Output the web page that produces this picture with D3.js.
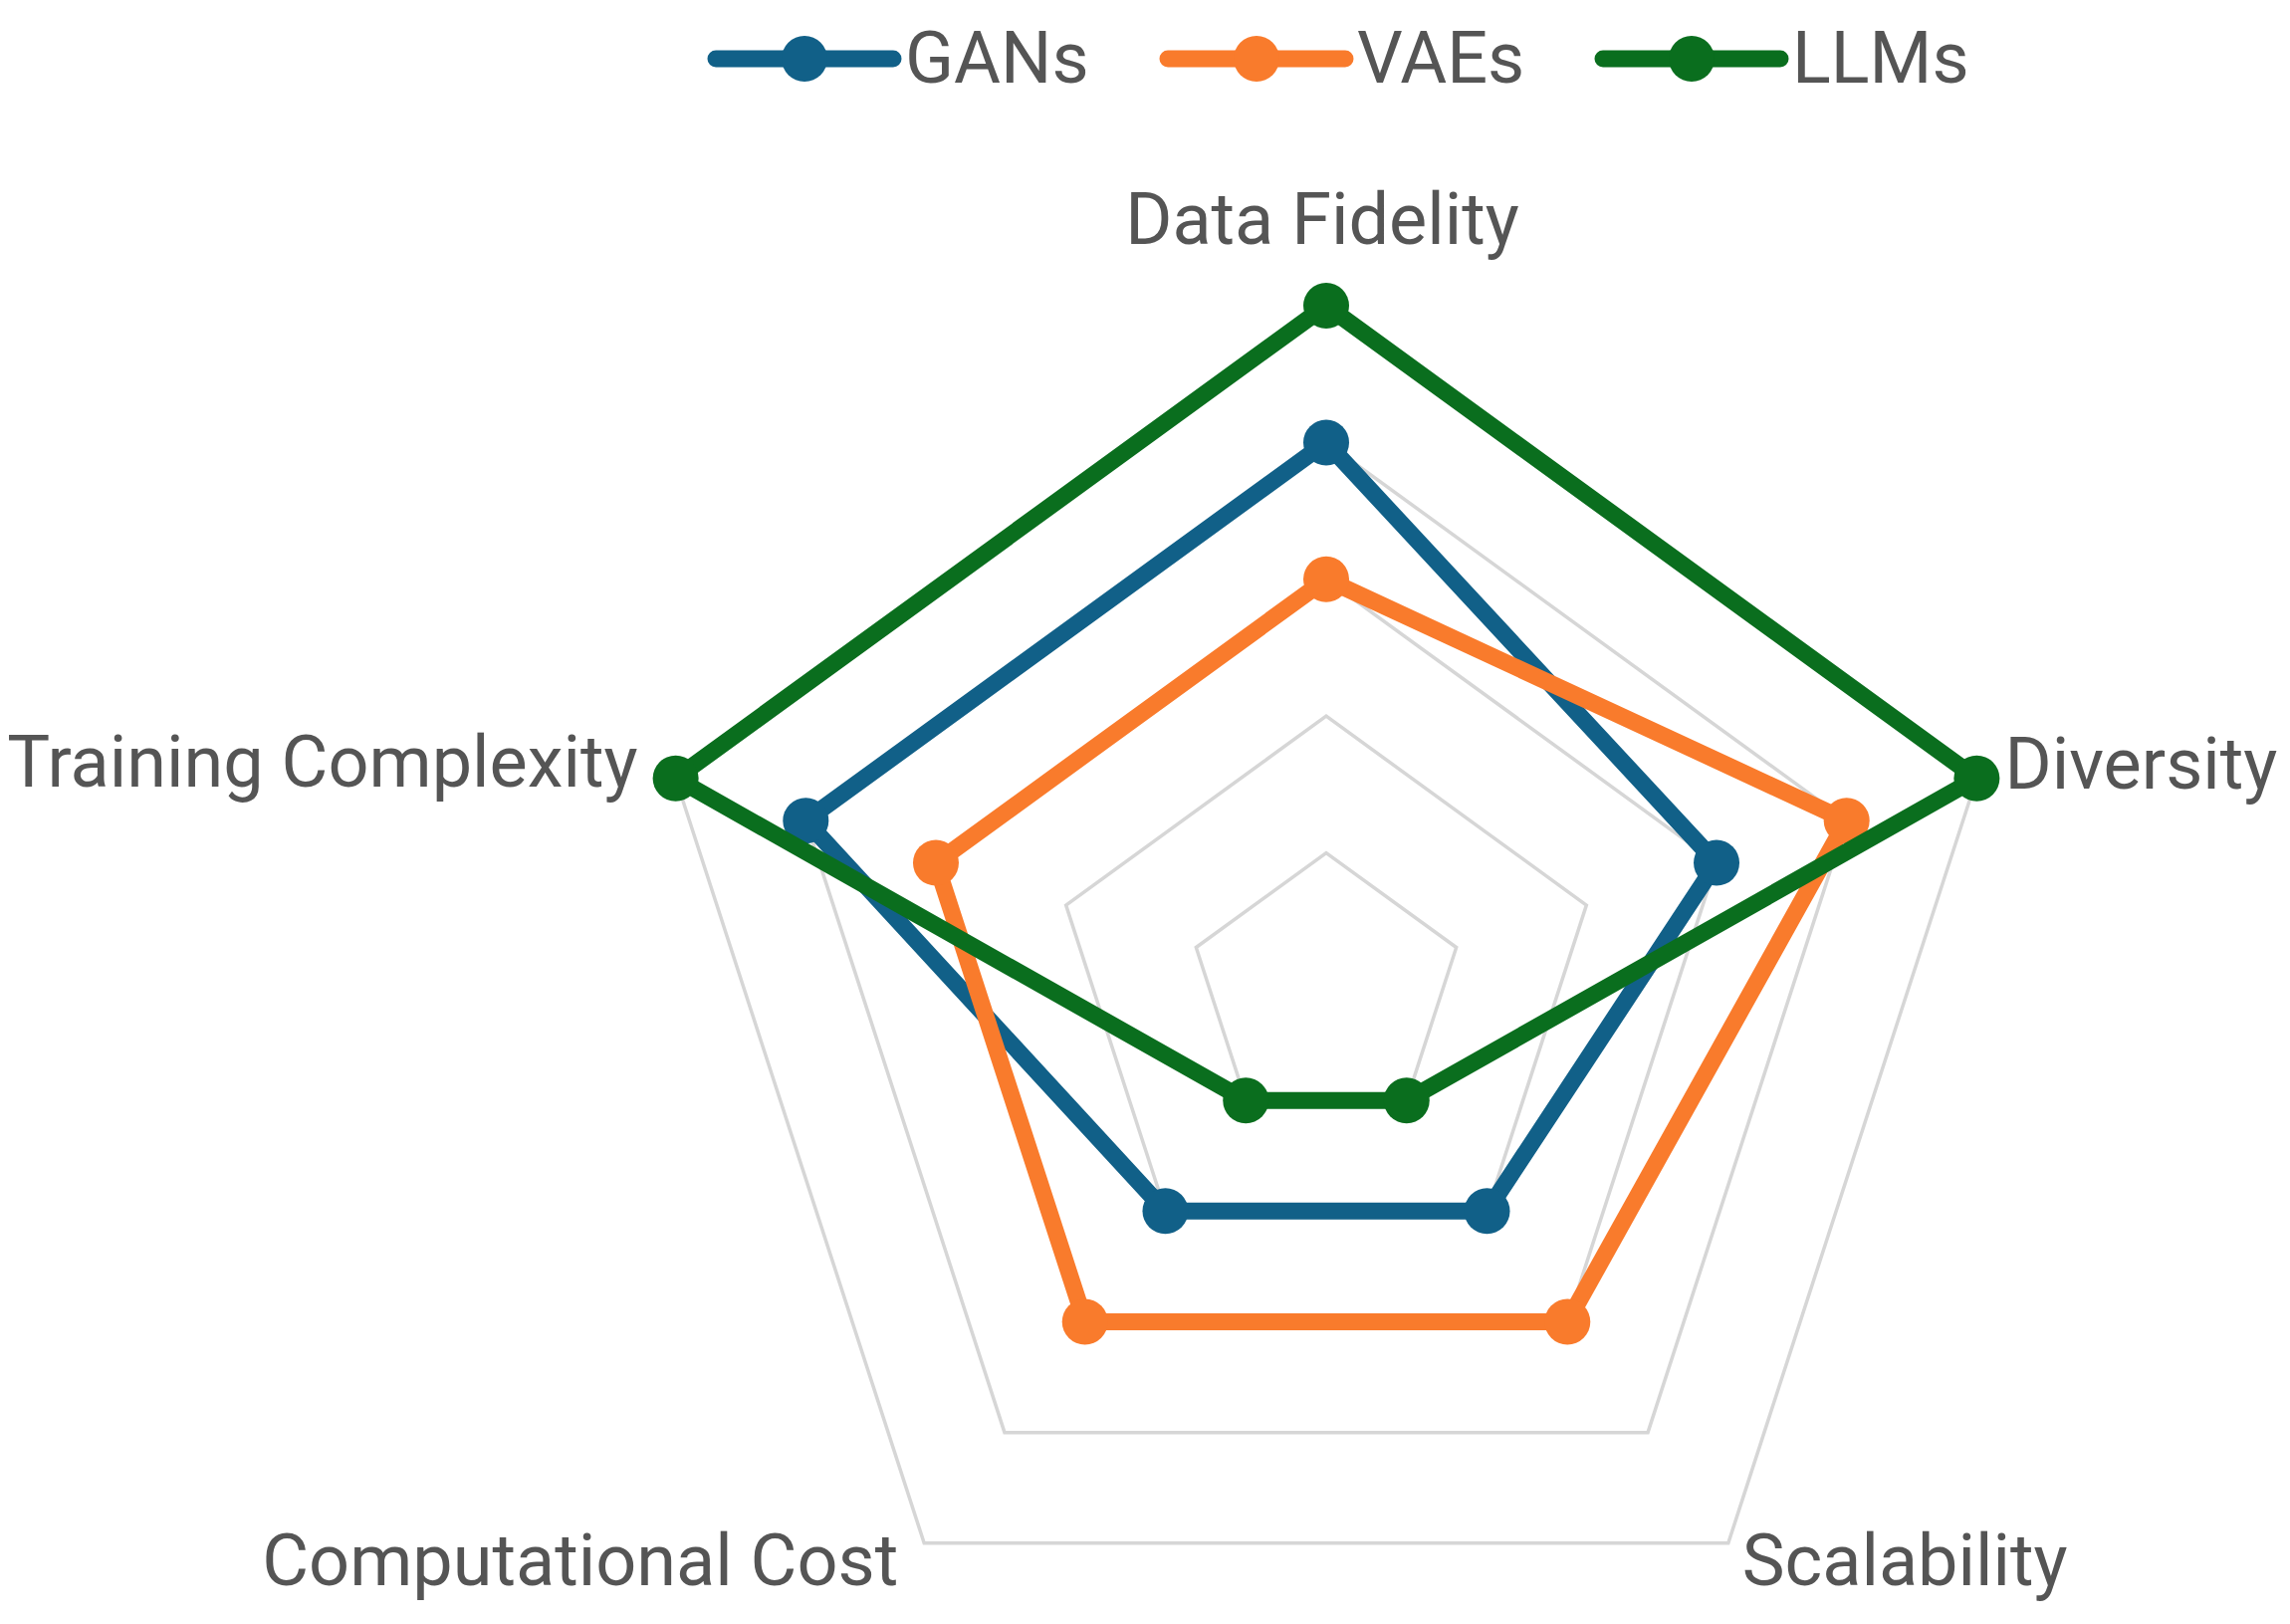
<!DOCTYPE html>
<html>
<head>
<meta charset="utf-8">
<script src="https://cdn.jsdelivr.net/npm/d3@7"></script>
<style>
  html, body { margin: 0; padding: 0; background: #ffffff; }
  svg { display: block; }
  text { font-family: Roboto, "Open Sans", sans-serif; fill: #555555; font-weight: 400; }
</style>
</head>
<body>
<svg id="chart" width="2300" height="1631"></svg>
<script>
// ---- data ----
const axes = ["Data Fidelity", "Diversity", "Scalability", "Computational Cost", "Training Complexity"];
const seriesNames = ["GANs", "VAEs", "LLMs"];
const gansValues = [4, 3, 2, 2, 4];
const vaesValues = [3, 4, 3, 3, 3];
const llmsValues = [5, 5, 1, 1, 5];
const gridLevels = [1, 2, 3, 4, 5];
const seriesColors = ["#116088", "#f97b2c", "#0a6e1e"];

const seriesData = [gansValues, vaesValues, llmsValues];

// ---- layout ----
const svg = d3.select("#chart");
const cx = 1332, cy = 994, R = 687;

const r = d3.scaleLinear().domain([0, 5]).range([0, R]);
const angle = d3.scaleLinear().domain([0, axes.length]).range([0, 2 * Math.PI]);

function pt(i, v) {
  const a = angle(i);
  return [cx + r(v) * Math.sin(a), cy - r(v) * Math.cos(a)];
}

const g = svg.append("g");

// grid pentagons
const lineClosed = d3.line().curve(d3.curveLinearClosed);
g.selectAll("path.grid")
  .data(gridLevels)
  .join("path")
  .attr("class", "grid")
  .attr("d", lv => lineClosed(axes.map((_, i) => pt(i, lv))))
  .attr("fill", "none")
  .attr("stroke", "#d6d6d6")
  .attr("stroke-width", 3.5);

// series
seriesData.forEach((vals, s) => {
  const sg = g.append("g");
  sg.append("path")
    .attr("d", lineClosed(vals.map((v, i) => pt(i, v))))
    .attr("fill", "none")
    .attr("stroke", seriesColors[s])
    .attr("stroke-width", 17)
    .attr("stroke-linejoin", "round");
  sg.selectAll("circle")
    .data(vals)
    .join("circle")
    .attr("cx", (v, i) => pt(i, v)[0])
    .attr("cy", (v, i) => pt(i, v)[1])
    .attr("r", 23)
    .attr("fill", seriesColors[s]);
});

// axis labels
const labelFont = 72;
const labelPos = [
  { dx: -4, dy: -62, anchor: "middle" },
  { dx: 28, dy: 10, anchor: "start" },
  { dx: 14, dy: 42, anchor: "start" },
  { dx: -26, dy: 42, anchor: "end" },
  { dx: -38, dy: 8, anchor: "end" }
];
axes.forEach((name, i) => {
  const [x, y] = pt(i, 5);
  const p = labelPos[i];
  g.append("text")
    .attr("x", x + p.dx)
    .attr("y", y + p.dy)
    .attr("text-anchor", p.anchor)
    .attr("font-size", labelFont)
    .text(name);
});

// legend
const legendX = [719, 1173, 1610];
const legendY = 59;
const legend = svg.append("g");
seriesNames.forEach((name, s) => {
  const x0 = legendX[s];
  legend.append("line")
    .attr("x1", x0).attr("x2", x0 + 178)
    .attr("y1", legendY).attr("y2", legendY)
    .attr("stroke", seriesColors[s])
    .attr("stroke-width", 17)
    .attr("stroke-linecap", "round");
  legend.append("circle")
    .attr("cx", x0 + 89).attr("cy", legendY)
    .attr("r", 23)
    .attr("fill", seriesColors[s]);
  legend.append("text")
    .attr("x", x0 + 190)
    .attr("y", legendY + 24)
    .attr("font-size", labelFont)
    .text(name);
});
</script>
</body>
</html>
